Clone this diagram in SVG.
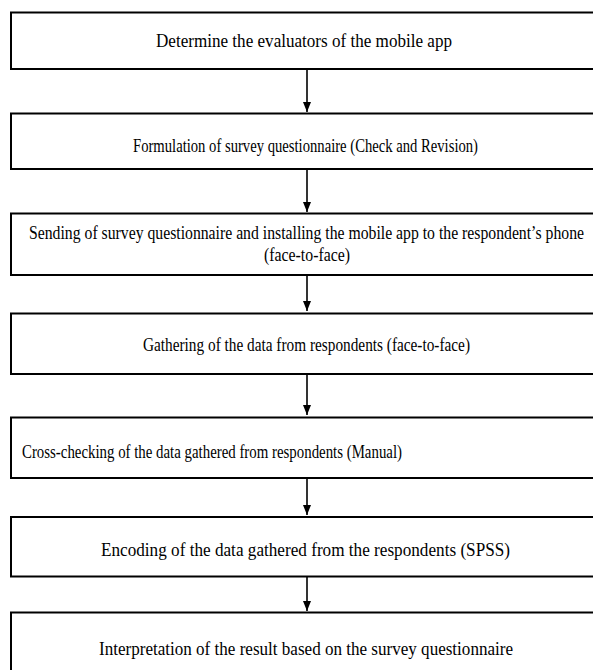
<svg xmlns="http://www.w3.org/2000/svg" width="593" height="670" viewBox="0 0 593 670">
  <style>
    .box { fill: #ffffff; stroke: #000000; stroke-width: 2; }
    .lbl { font-family: "Liberation Serif", "Times New Roman", serif; font-size: 19.5px; fill: #000000; }
    .conn { stroke: #000000; stroke-width: 1.6; fill: none; }
  </style>
  <defs>
    <marker id="arrow" markerUnits="userSpaceOnUse" markerWidth="8" markerHeight="10" refX="4" refY="10" orient="0" viewBox="0 0 8 10">
      <path d="M0,0 L8,0 L4,10 Z" fill="#000000"/>
    </marker>
  </defs>
  <rect x="0" y="0" width="593" height="670" fill="#ffffff"/>

  <g id="node1">
    <rect class="box" x="11" y="12.5" width="620" height="56.5"/>
    <text class="lbl" x="156" y="46.5" textLength="296" lengthAdjust="spacingAndGlyphs">Determine the evaluators of the mobile app</text>
  </g>
  <g id="node2">
    <rect class="box" x="11" y="113.5" width="620" height="55.5"/>
    <text class="lbl" x="133" y="152" textLength="345" lengthAdjust="spacingAndGlyphs">Formulation of survey questionnaire (Check and Revision)</text>
  </g>
  <g id="node3">
    <rect class="box" x="11" y="213.5" width="620" height="61.5"/>
    <text class="lbl" x="29" y="239" textLength="555" lengthAdjust="spacingAndGlyphs">Sending of survey questionnaire and installing the mobile app to the respondent’s phone</text>
    <text class="lbl" x="264" y="261" textLength="86" lengthAdjust="spacingAndGlyphs">(face-to-face)</text>
  </g>
  <g id="node4">
    <rect class="box" x="11" y="313.5" width="620" height="60.5"/>
    <text class="lbl" x="143" y="351" textLength="327" lengthAdjust="spacingAndGlyphs">Gathering of the data from respondents (face-to-face)</text>
  </g>
  <g id="node5">
    <rect class="box" x="11" y="417.5" width="620" height="60.5"/>
    <text class="lbl" x="22" y="458" textLength="380" lengthAdjust="spacingAndGlyphs">Cross-checking of the data gathered from respondents (Manual)</text>
  </g>
  <g id="node6">
    <rect class="box" x="11" y="517" width="620" height="59.5"/>
    <text class="lbl" x="101" y="556" textLength="409" lengthAdjust="spacingAndGlyphs">Encoding of the data gathered from the respondents (SPSS)</text>
  </g>
  <g id="node7">
    <rect class="box" x="11" y="612.5" width="620" height="80"/>
    <text class="lbl" x="99" y="655" textLength="414" lengthAdjust="spacingAndGlyphs">Interpretation of the result based on the survey questionnaire</text>
  </g>

  <g id="connectors">
    <line class="conn" x1="307" y1="70" x2="307" y2="112" marker-end="url(#arrow)"/>
    <line class="conn" x1="307" y1="170" x2="307" y2="212" marker-end="url(#arrow)"/>
    <line class="conn" x1="307" y1="276" x2="307" y2="311" marker-end="url(#arrow)"/>
    <line class="conn" x1="307" y1="375" x2="307" y2="415" marker-end="url(#arrow)"/>
    <line class="conn" x1="307" y1="479" x2="307" y2="515" marker-end="url(#arrow)"/>
    <line class="conn" x1="307" y1="577" x2="307" y2="611" marker-end="url(#arrow)"/>
  </g>
</svg>
